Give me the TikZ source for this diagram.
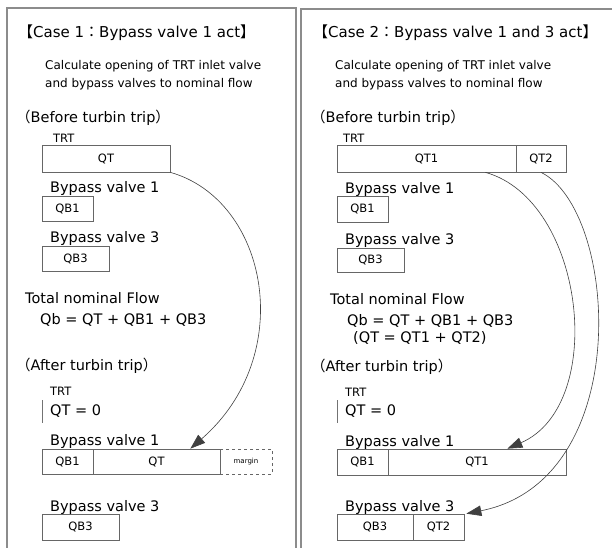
\documentclass[tikz,border=0pt]{standalone}
\usepackage{fontspec}
\setmainfont{DejaVu Sans}
\newfontfamily\cjk{Noto Sans CJK JP}
\usetikzlibrary{arrows.meta,calc}
\tikzset{
  frame/.style={draw=black!45, line width=1.3pt},
  box/.style={draw=black!60, line width=0.7pt, inner sep=0pt, font=\fontsize{11.5}{13}\selectfont},
  dbox/.style={box, dashed, font=\fontsize{7}{8}\selectfont},
  titletxt/.style={anchor=west, inner sep=0pt, font=\fontsize{15}{17}\selectfont},
  head/.style={anchor=west, inner sep=0pt, font=\fontsize{14.5}{16}\selectfont},
  small/.style={anchor=west, inner sep=0pt, font=\fontsize{12}{14}\selectfont},
  lbl/.style={anchor=west, inner sep=0pt, font=\fontsize{11.5}{13}\selectfont},
  flow/.style={draw=black!75, line width=0.6pt, -{Triangle[length=15pt,width=10.5pt]}},
  bar/.style={draw=black!55, line width=0.8pt}
}
\begin{document}
\begin{tikzpicture}[x=1pt,y=-1pt]
\useasboundingbox (0,0) rectangle (612,547);
% frames
\draw[frame] (7,560) -- (7,8) -- (296,8) -- (296,560);
\draw[frame] (301,560) -- (301,9) -- (620,9);

% ===== Case 1 =====
\node[titletxt] (t1) at (18,33) {{\cjk 【}Case 1{\cjk ：}Bypass valve 1 act{\cjk 】}};
\node[small] (c1a) at (45,66) {Calculate opening of TRT inlet valve};
\node[small] (c1b) at (45,84) {and bypass valves to nominal flow};
\node[head] (bef1) at (16,118) {{\cjk （}Before turbin trip{\cjk ）}};
\node[lbl] (trt1) at (53,138) {TRT};
\node[box, minimum width=128pt, minimum height=27pt] (qt) at (106,158.5) {QT};
\node[head] (bv11) at (50,188) {Bypass valve 1};
\node[box, minimum width=51pt, minimum height=25pt] (qb1) at (67.5,208.5) {QB1};
\node[head] (bv31) at (50,238) {Bypass valve 3};
\node[box, minimum width=67pt, minimum height=25pt] (qb3) at (75.5,258.5) {QB3};
\node[head] (tot1) at (25,298) {Total nominal Flow};
\node[head] (eq1) at (40,320) {Qb = QT + QB1 + QB3};
\node[head] (aft1) at (16,366) {{\cjk （}After turbin trip{\cjk ）}};
\node[lbl] (trt1b) at (50,391) {TRT};
\node[head] (qz1) at (50,411) {QT = 0};
\draw[bar] (42,400) -- (42,423);
\node[head] (bv12) at (50,441) {Bypass valve 1};
\node[box, minimum width=51pt, minimum height=25pt] (qb1a) at (67.5,461.5) {QB1};
\node[box, minimum width=127pt, minimum height=25pt] (qta) at (156.5,461.5) {QT};
\node[dbox, minimum width=52pt, minimum height=25pt] (mg) at (246,461.5) {margin};
\node[head] (bv32) at (50,507) {Bypass valve 3};
\node[box, minimum width=77pt, minimum height=26pt] (qb3a) at (80.5,527) {QB3};

\draw[flow] (qt.south east) .. controls (268,200) and (298,355) .. ([xshift=-30pt]qta.north east);

% ===== Case 2 =====
\node[titletxt] (t2) at (313,33) {{\cjk 【}Case 2{\cjk ：}Bypass valve 1 and 3 act{\cjk 】}};
\node[small] (c2a) at (335,66) {Calculate opening of TRT inlet valve};
\node[small] (c2b) at (335,84) {and bypass valves to nominal flow};
\node[head] (bef2) at (311,118) {{\cjk （}Before turbin trip{\cjk ）}};
\node[lbl] (trt2) at (343,138) {TRT};
\node[box, minimum width=179pt, minimum height=27pt] (qt1) at (426.5,158.5) {QT1};
\node[box, minimum width=50pt, minimum height=27pt] (qt2) at (541,158.5) {QT2};
\node[head] (bv13) at (345,189) {Bypass valve 1};
\node[box, minimum width=51pt, minimum height=26pt] (qb1b) at (362.5,209) {QB1};
\node[head] (bv33) at (345,240) {Bypass valve 3};
\node[box, minimum width=67pt, minimum height=24pt] (qb3b) at (370.5,260) {QB3};
\node[head] (tot2) at (330,299) {Total nominal Flow};
\node[head] (eq2) at (347,321) {Qb = QT + QB1 + QB3};
\node[head] (eq3) at (353,338) {(QT = QT1 + QT2)};
\node[head] (aft2) at (311,367) {{\cjk （}After turbin trip{\cjk ）}};
\node[lbl] (trt2b) at (345,392) {TRT};
\node[head] (qz2) at (345,411) {QT = 0};
\draw[bar] (337,400) -- (337,423);
\node[head] (bv14) at (345,442) {Bypass valve 1};
\node[box, minimum width=51pt, minimum height=26pt] (qb1c) at (362.5,462) {QB1};
\node[box, minimum width=178pt, minimum height=26pt] (qt1c) at (477,462) {QT1};
\node[head] (bv34) at (345,507) {Bypass valve 3};
\node[box, minimum width=76pt, minimum height=26pt] (qb3c) at (375,527) {QB3};
\node[box, minimum width=51pt, minimum height=26pt] (qt2c) at (438.5,527) {QT2};

\draw[flow] ([xshift=-31pt]qt1.south east) .. controls (585,200) and (608,405) .. ([xshift=-59pt]qt1c.north east);
\draw[flow] (qt2.south) .. controls (618,210) and (636,480) .. ([xshift=2pt]qt2c.north east);
\end{tikzpicture}
\end{document}
